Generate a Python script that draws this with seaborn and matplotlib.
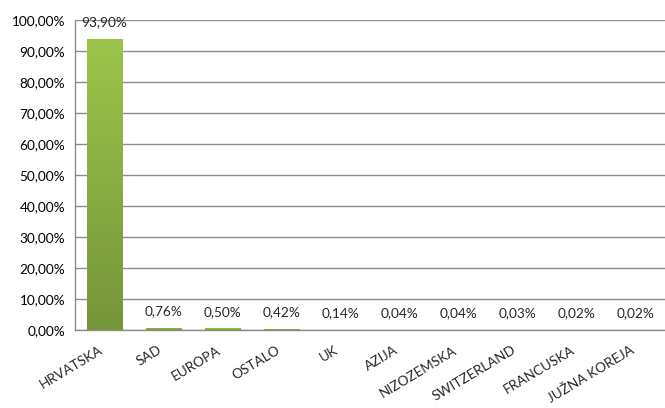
import numpy as np
import pandas as pd
import matplotlib
matplotlib.use("Agg")
import matplotlib.pyplot as plt
import matplotlib.transforms as mtransforms
import seaborn as sns
from matplotlib.colors import LinearSegmentedColormap

categories = ["HRVATSKA", "SAD", "EUROPA", "OSTALO", "UK", "AZIJA",
              "NIZOZEMSKA", "SWITZERLAND", "FRANCUSKA", "JUŽNA KOREJA"]
values = [93.90, 0.76, 0.50, 0.42, 0.14, 0.04, 0.04, 0.03, 0.02, 0.02]
value_labels = ["93,90%", "0,76%", "0,50%", "0,42%", "0,14%", "0,04%",
                "0,04%", "0,03%", "0,02%", "0,02%"]
yticks = list(range(0, 101, 10))
ytick_labels = [f"{t},00%" for t in yticks]

df = pd.DataFrame({"country": categories, "share": values})

sns.set_style("white")
plt.rcParams["font.family"] = ["Lato", "DejaVu Sans"]
FS = 9.8

fig = plt.figure(figsize=(6.65, 4.08), dpi=100)
ax = fig.add_axes([75/665, 1 - 330/408, 590/665, 310/408])

sns.barplot(data=df, x="country", y="share", ax=ax, width=0.6,
            color="#8DB449", edgecolor="none", zorder=3)

cmap = LinearSegmentedColormap.from_list("g", ["#76953A", "#9CC54B"])
grad = np.linspace(0, 1, 256).reshape(-1, 1)
for p in ax.patches:
    x0, y0 = p.get_x(), p.get_y()
    w, h = p.get_width(), p.get_height()
    im = ax.imshow(grad, cmap=cmap, aspect="auto", origin="lower",
                   extent=[x0, x0 + w, y0, y0 + h], zorder=4)
    im.set_clip_path(p)
    ax.add_patch(plt.Rectangle((x0 + w, 0), 0.02, h, color="#d4d4d4",
                               zorder=2, lw=0))

ax.set_xlim(-0.5, 9.5)
ax.set_ylim(0, 100)
ax.set_yticks(yticks)
ax.set_yticklabels(ytick_labels, fontsize=FS, color="#000000")
ax.yaxis.grid(True, color="#8c8c8c", linewidth=1.0, zorder=0)
ax.set_axisbelow(True)
ax.set_xlabel("")
ax.set_ylabel("")
ax.tick_params(axis="y", length=3, color="#8c8c8c", pad=4)
ax.tick_params(axis="x", length=0, pad=10)
ax.set_xticks(range(len(categories)))
ax.set_xticklabels(categories, rotation=31, ha="right",
                   rotation_mode="anchor", fontsize=FS)
offset = mtransforms.ScaledTranslation(-6/100, 0, fig.dpi_scale_trans)
for lbl in ax.get_xticklabels():
    lbl.set_transform(lbl.get_transform() + offset)

for s in ["top", "right"]:
    ax.spines[s].set_visible(False)
for s in ["left", "bottom"]:
    ax.spines[s].set_color("#8c8c8c")
    ax.spines[s].set_linewidth(1.0)

for i, (v, lab) in enumerate(zip(values, value_labels)):
    ax.text(i, v + 5.5 if v > 50 else v + 5.3, lab, ha="center",
            va="center", fontsize=FS, zorder=6)

fig.savefig("out.png", dpi=100)
